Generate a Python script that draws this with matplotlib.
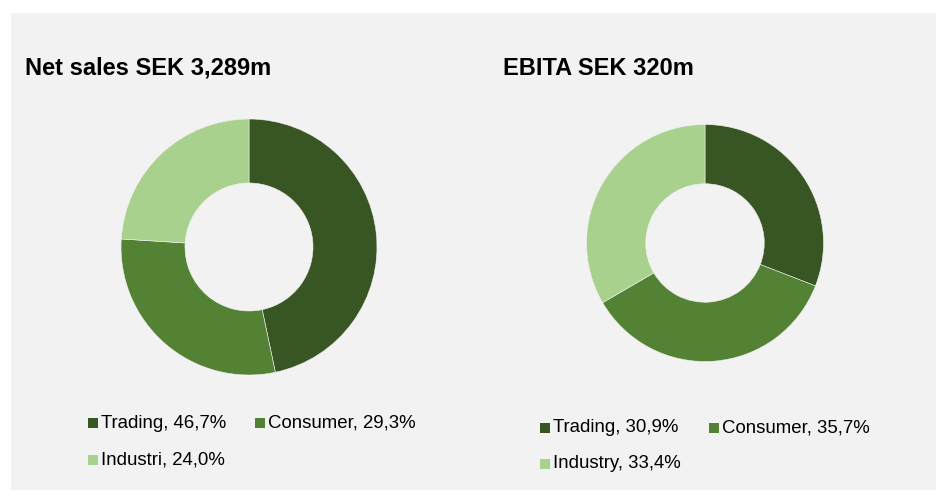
import matplotlib
matplotlib.use("Agg")
import matplotlib.pyplot as plt
from matplotlib.patches import Rectangle

plt.rcParams['font.family'] = ['Liberation Sans', 'DejaVu Sans']

# Data
segments_sales = ['Trading', 'Consumer', 'Industri']
share_sales = [46.7, 29.3, 24.0]
segments_ebita = ['Trading', 'Consumer', 'Industry']
share_ebita = [30.9, 35.7, 33.4]
titles = ['Net sales SEK 3,289m', 'EBITA SEK 320m']

colors = ['#375623', '#548235', '#A9D18E']
bg = '#F2F2F2'

W, H = 938, 491
fig = plt.figure(figsize=(W / 100, H / 100), dpi=100)
fig.patch.set_facecolor('white')

# grey panel
fig.add_artist(Rectangle((11 / W, 1 - 490 / H), 925 / W, 477 / H,
                         transform=fig.transFigure, facecolor=bg, edgecolor='none', zorder=0))


def px_axes(cx, cy, r):
    # axes box around a donut, pixel coords with origin at top-left
    return fig.add_axes([(cx - r) / W, 1 - (cy + r) / H, 2 * r / W, 2 * r / H])


def legend_entry(x, y, label, value, color):
    fig.add_artist(Rectangle((x / W, 1 - (y + 5) / H), 10 / W, 10 / H,
                             transform=fig.transFigure, facecolor=color, edgecolor='none'))
    fig.text((x + 13) / W, 1 - y / H, f'{label}, {value:.1f}%'.replace('.', ','),
             fontsize=13.4, va='center', ha='left', color='black')


panels = [
    dict(names=segments_sales, vals=share_sales, title=titles[0],
         cx=249, cy=247, r=128, tx=25, lx=88, lx2=255, ly=423, ly2=460),
    dict(names=segments_ebita, vals=share_ebita, title=titles[1],
         cx=705, cy=243, r=118.5, tx=503, lx=540, lx2=709, ly=428, ly2=464),
]

for p in panels:
    ax = px_axes(p['cx'], p['cy'], p['r'])
    ax.pie(p['vals'], colors=colors, startangle=90, counterclock=False, radius=1,
           wedgeprops=dict(width=0.5, edgecolor=bg, linewidth=0.4))
    ax.set_xlim(-1, 1)
    ax.set_ylim(-1, 1)
    ax.set_aspect('equal')
    ax.axis('off')

    fig.text(p['tx'] / W, 1 - 75 / H, p['title'], fontsize=17, fontweight='bold',
             ha='left', va='baseline', color='black')

    legend_entry(p['lx'], p['ly'], p['names'][0], p['vals'][0], colors[0])
    legend_entry(p['lx2'], p['ly'], p['names'][1], p['vals'][1], colors[1])
    legend_entry(p['lx'], p['ly2'], p['names'][2], p['vals'][2], colors[2])

fig.savefig('out.png', dpi=100, facecolor=fig.get_facecolor())
